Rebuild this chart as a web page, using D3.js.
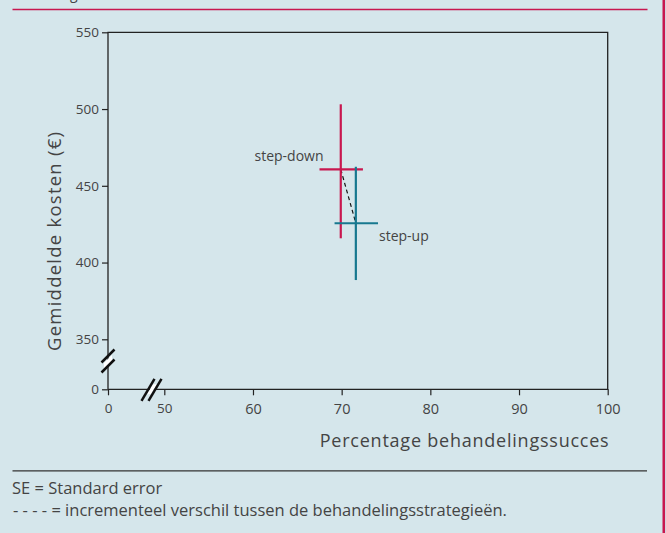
<!DOCTYPE html>
<html>
<head>
<meta charset="utf-8">
<script src="https://cdn.jsdelivr.net/npm/d3@7"></script>
<style>
  body { margin: 0; background: #d5e6eb; }
  svg { display: block; }
  text { font-family: "Open Sans", Lato, sans-serif; fill: #444; }
</style>
</head>
<body>
<div class="canvas"></div>
<script>
// data
const strategies = ["step-down", "step-up"];
const successPct = [69.9, 71.6];
const successLow = [67.5, 69.2];
const successHigh = [72.4, 74.1];
const meanCost = [460.7, 425.6];
const costLow = [415.8, 388.6];
const costHigh = [503.1, 462.4];
const colors = ["#c8174f", "#17788f"];

const xTicks = [0, 50, 60, 70, 80, 90, 100];
const yTicks = [0, 350, 400, 450, 500, 550];

const dims = { width: 666, height: 533 };
const plot = { left: 108, right: 607.7, top: 32.3, bottom: 389.3 };

const svg = d3
  .select(".canvas")
  .append("svg")
  .attr("width", dims.width)
  .attr("height", dims.height);

svg.append("rect")
  .attr("width", dims.width)
  .attr("height", dims.height)
  .attr("fill", "#d5e6eb");

// broken scales: 0 -> 50 squeezed, 0 -> 350 squeezed
const x = d3.scaleLinear()
  .domain([0, 50, 100])
  .range([plot.left, 164.3, plot.right]);

const y = d3.scaleLinear()
  .domain([0, 350, 550])
  .range([plot.bottom, 339.3, plot.top]);

// frame lines of the page
svg.append("text")
  .attr("x", 8)
  .attr("y", -1.5)
  .attr("font-size", 14)
  .text("Afbeelding");

svg.append("line")
  .attr("x1", 12.5).attr("x2", 647.5)
  .attr("y1", 9.5).attr("y2", 9.5)
  .attr("stroke", "#c8174f")
  .attr("stroke-width", 1.6);

svg.append("line")
  .attr("x1", 663.8).attr("x2", 663.8)
  .attr("y1", 0).attr("y2", dims.height)
  .attr("stroke", "#c8174f")
  .attr("stroke-width", 2.6);

svg.append("line")
  .attr("x1", 12.5).attr("x2", 647)
  .attr("y1", 470.8).attr("y2", 470.8)
  .attr("stroke", "#333")
  .attr("stroke-width", 1.3);

// axes
const xAxis = d3.axisBottom(x)
  .tickValues(xTicks)
  .tickSize(6)
  .tickSizeOuter(0)
  .tickPadding(8);

const yAxis = d3.axisLeft(y)
  .tickValues(yTicks)
  .tickSize(6)
  .tickSizeOuter(0)
  .tickPadding(3);

const gx = svg.append("g")
  .attr("transform", `translate(0,${plot.bottom})`)
  .call(xAxis);

const gy = svg.append("g")
  .attr("transform", `translate(${plot.left},0)`)
  .call(yAxis);

[gx, gy].forEach((g) => {
  g.select(".domain").remove();
  g.selectAll(".tick line").attr("stroke", "#222").attr("stroke-width", 1.2);
  g.selectAll(".tick text")
    .attr("fill", "#555")
    .attr("font-size", 13.5)
    .attr("font-family", "'Open Sans', sans-serif");
});
gx.selectAll(".tick text")
  .filter((d) => d > 50)
  .attr("font-family", "'Liberation Serif', serif")
  .attr("font-size", 14.5);

// plot box
svg.append("path")
  .attr("d", `M${plot.left},${plot.bottom}V${plot.top}H${plot.right}V${plot.bottom}H${plot.left}`)
  .attr("fill", "none")
  .attr("stroke", "#222")
  .attr("stroke-width", 1.3);

// axis break marks
const yBreak = svg.append("g").attr("transform", `translate(${plot.left},361)`);
yBreak.append("polygon")
  .attr("points", "-4,2 4,-6 4,2 -4,10")
  .attr("fill", "#fff");
yBreak.selectAll("line")
  .data([-6, 4])
  .join("line")
  .attr("x1", -6.5).attr("x2", 6.5)
  .attr("y1", (d) => d + 7.5).attr("y2", (d) => d - 5.5)
  .attr("stroke", "#111")
  .attr("stroke-width", 2.5);

const xBreak = svg.append("g").attr("transform", `translate(152,${plot.bottom})`);
xBreak.append("polygon")
  .attr("points", "-5,5 1,-5 5,-5 -1,5")
  .attr("fill", "#fff");
xBreak.selectAll("line")
  .data([-4, 3])
  .join("line")
  .attr("x1", (d) => d - 6.5).attr("x2", (d) => d + 6.5)
  .attr("y1", 11.5).attr("y2", -10.5)
  .attr("stroke", "#111")
  .attr("stroke-width", 2.5);

// incremental difference
svg.append("line")
  .attr("x1", x(successPct[0])).attr("y1", y(meanCost[0]))
  .attr("x2", x(successPct[1])).attr("y2", y(meanCost[1]))
  .attr("stroke", "#111")
  .attr("stroke-width", 1.2)
  .attr("stroke-dasharray", "4,3");

// error crosses
const points = strategies.map((name, i) => ({
  name,
  pct: successPct[i],
  pLo: successLow[i],
  pHi: successHigh[i],
  cost: meanCost[i],
  cLo: costLow[i],
  cHi: costHigh[i],
  color: colors[i],
}));

const cross = svg.selectAll(".cross")
  .data(points)
  .join("g")
  .attr("class", "cross");

cross.append("line")
  .attr("x1", (d) => x(d.pct)).attr("x2", (d) => x(d.pct))
  .attr("y1", (d) => y(d.cHi)).attr("y2", (d) => y(d.cLo))
  .attr("stroke", (d) => d.color)
  .attr("stroke-width", 2.2);

cross.append("line")
  .attr("x1", (d) => x(d.pLo)).attr("x2", (d) => x(d.pHi))
  .attr("y1", (d) => y(d.cost)).attr("y2", (d) => y(d.cost))
  .attr("stroke", (d) => d.color)
  .attr("stroke-width", 2.2);

// labels for the strategies
svg.append("text")
  .attr("x", x(successLow[0]) + 4)
  .attr("y", y(meanCost[0]) - 8.5)
  .attr("text-anchor", "end")
  .attr("font-size", 14)
  .text(strategies[0]);

svg.append("text")
  .attr("x", x(successHigh[1]) + 1)
  .attr("y", y(meanCost[1]) + 18)
  .attr("font-size", 14)
  .text(strategies[1]);

// axis titles
svg.append("text")
  .attr("x", plot.right + 1)
  .attr("y", 446.5)
  .attr("text-anchor", "end")
  .attr("font-size", 18)
  .attr("textLength", 289)
  .text("Percentage behandelingssucces");

svg.append("text")
  .attr("transform", "translate(61,241.5) rotate(-90)")
  .attr("text-anchor", "middle")
  .attr("font-size", 18.5)
  .attr("textLength", 219)
  .text("Gemiddelde kosten (€)");

// footnotes
svg.append("text")
  .attr("x", 12)
  .attr("y", 494)
  .attr("font-size", 16.5)
  .attr("font-family", "Lato, sans-serif")
  .attr("fill", "#333")
  .text("SE = Standard error");

svg.append("text")
  .attr("x", 13)
  .attr("y", 516)
  .attr("font-size", 16.5)
  .attr("font-family", "Lato, sans-serif")
  .attr("fill", "#333")
  .text("- - - - = incrementeel verschil tussen de behandelingsstrategieën.");
</script>
</body>
</html>
